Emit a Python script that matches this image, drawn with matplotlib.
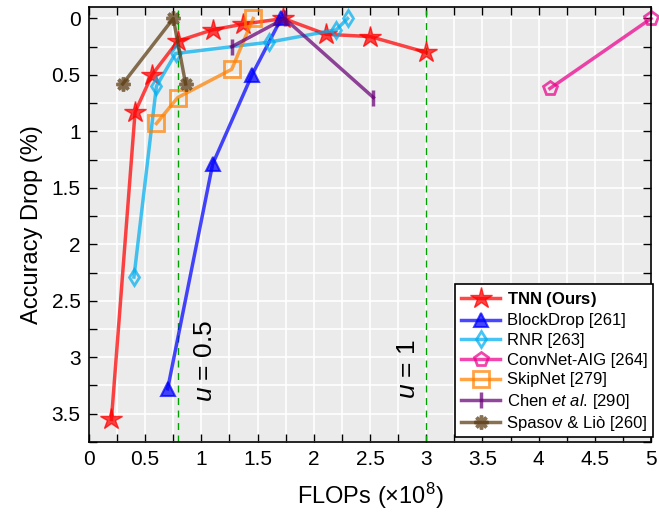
import numpy as np
import matplotlib
matplotlib.use('Agg')
import matplotlib.pyplot as plt
import matplotlib.ticker as mpl

plt.rcParams['font.family'] = ['Liberation Sans', 'DejaVu Sans']
plt.rcParams['mathtext.fontset'] = 'custom'
plt.rcParams['mathtext.rm'] = 'Liberation Sans'
plt.rcParams['mathtext.it'] = 'Liberation Sans:italic'
plt.rcParams['mathtext.bf'] = 'Liberation Sans:bold'

# FLOPs (x1e8) and accuracy drop (%) per method
tnn_x = [0.2, 0.41, 0.56, 0.79, 1.1, 1.37, 1.73, 2.11, 2.5, 3.0]
tnn_y = [3.55, 0.83, 0.5, 0.2, 0.1, 0.05, 0.0, 0.14, 0.16, 0.3]
blockdrop_x = [0.7, 1.1, 1.45, 1.71]
blockdrop_y = [3.28, 1.29, 0.5, 0.0]
rnr_x = [0.4, 0.6, 0.77, 1.6, 2.2, 2.3]
rnr_y = [2.29, 0.6, 0.31, 0.21, 0.1, 0.0]
aig_x = [4.1, 5.0]
aig_y = [0.62, 0.0]
skipnet_x = [0.6, 0.79, 1.27, 1.46]
skipnet_y = [0.93, 0.7, 0.45, 0.0]
chen_x = [1.27, 1.74, 2.53]
chen_y = [0.25, 0.0, 0.7]
spasov_x = [0.3, 0.75, 0.86]
spasov_y = [0.58, 0.0, 0.58]

u_lines = [0.79, 3.0]

fig = plt.figure(figsize=(6.59, 5.15), dpi=100)
ax = fig.add_axes([0.135, 0.142, 0.853, 0.844])
ax.set_facecolor('#EBEBEB')

lw = 2.5
a = 0.72
ax.plot(tnn_x, tnn_y, '-', color='red', marker='*', markersize=16, lw=lw, alpha=a,
        label=r'$\bf{TNN\ (Ours)}$')
ax.plot(blockdrop_x, blockdrop_y, '-', color='blue', marker='^', markersize=10, lw=lw,
        alpha=a, mew=1.5, label='BlockDrop [261]')
ax.plot(rnr_x, rnr_y, '-', color='#00AEEF', marker='d', markersize=8, lw=lw, alpha=a,
        mfc='none', mew=2, label='RNR [263]')
ax.plot(aig_x, aig_y, '-', color='#EC008C', marker='p', markersize=10, lw=lw, alpha=a,
        mfc='none', mew=2, clip_on=False, label='ConvNet-AIG [264]')
ax.plot(skipnet_x, skipnet_y, '-', color='#FF8000', marker='s', markersize=11, lw=lw,
        alpha=a, mfc='none', mew=2, label='SkipNet [279]')
ax.plot(chen_x, chen_y, '-', color='#670075', marker='|', markersize=11, lw=lw, alpha=a,
        mew=2.5, label=r'Chen $\it{et\ al}$. [290]')
ax.plot(spasov_x, spasov_y, '-', color='#5A3A10', marker=(8, 2, 0), markersize=10, lw=lw,
        alpha=a, mew=2.5, label='Spasov & Liò [260]')

for xv in u_lines:
    ax.axvline(xv, color='#00A000', ls=(0, (5, 4)), lw=1, zorder=1)
ax.text(1.03, 3.03, r'$u$ = 0.5', rotation=90, fontsize=19, ha='center', va='center')
ax.text(2.84, 3.1, r'$u$ = 1', rotation=90, fontsize=19, ha='center', va='center')

ax.set_xlim(0, 5)
ax.set_ylim(3.75, -0.1)
ax.xaxis.set_major_locator(mpl.MultipleLocator(0.5))
ax.xaxis.set_minor_locator(mpl.MultipleLocator(0.25))
ax.yaxis.set_major_locator(mpl.MultipleLocator(0.5))
ax.yaxis.set_minor_locator(mpl.MultipleLocator(0.25))
ax.xaxis.set_major_formatter(mpl.FuncFormatter(lambda v, p: '%g' % v))
ax.yaxis.set_major_formatter(mpl.FuncFormatter(lambda v, p: '%g' % v))
ax.tick_params(which='both', direction='in', top=True, right=True, length=6,
               width=1, labelsize=15, pad=6)
ax.grid(True, which='both', color='white', lw=1.2)
ax.set_axisbelow(True)
for s in ax.spines.values():
    s.set_linewidth(1.2)

ax.set_xlabel(r'FLOPs ($\times10^8$)', fontsize=17, labelpad=8)
ax.set_ylabel('Accuracy Drop (%)', fontsize=17, labelpad=6)

leg = ax.legend(loc='lower right', bbox_to_anchor=(1.004, 0.012), fontsize=12,
                handlelength=2.35, framealpha=1, fancybox=False, edgecolor='black',
                borderaxespad=0, labelspacing=0.28, borderpad=0.35, handletextpad=0.4)
leg.get_frame().set_linewidth(1.2)
leg.set_zorder(5)

plt.savefig('out.png', dpi=100)
